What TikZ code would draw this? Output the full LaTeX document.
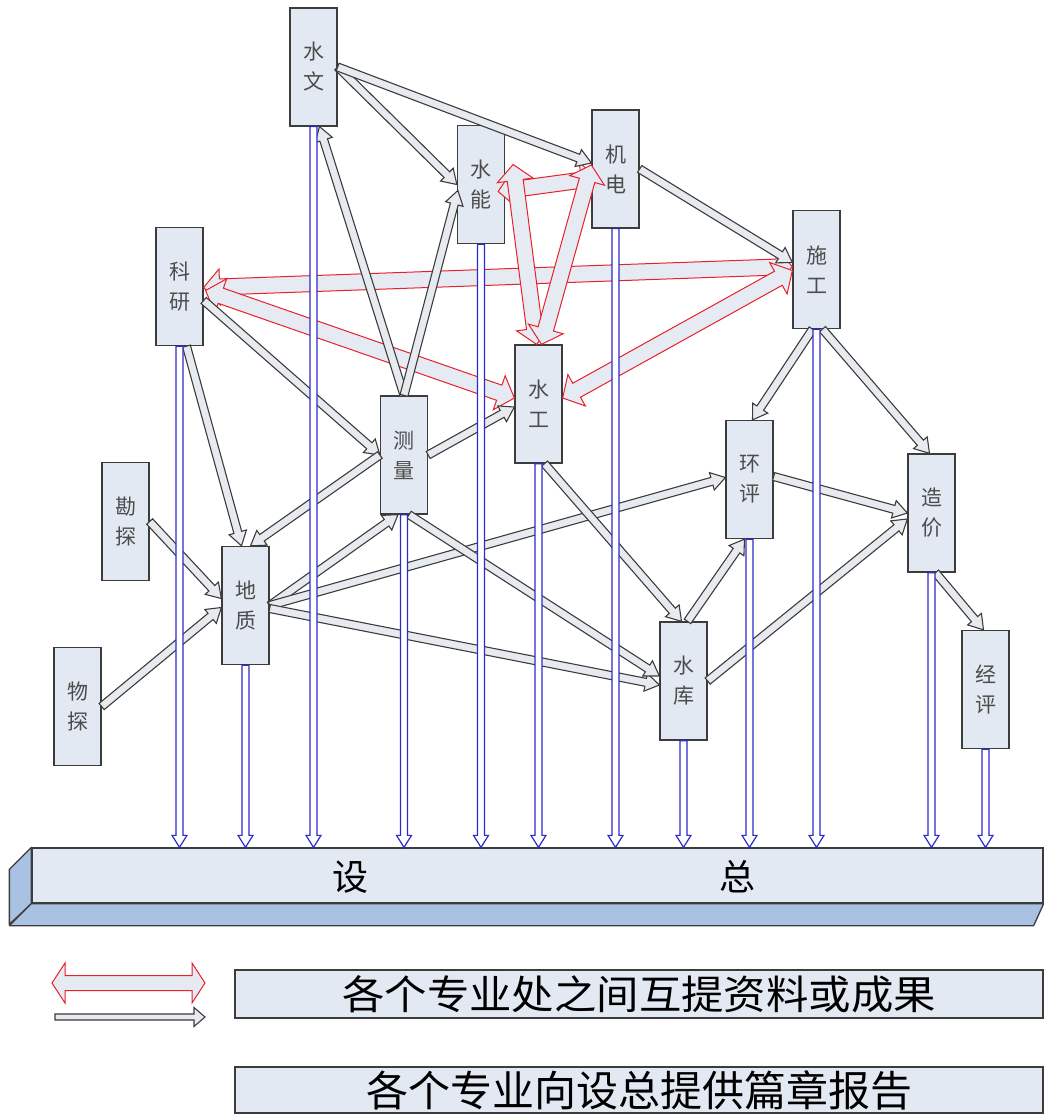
\documentclass[tikz,border=0pt]{standalone}
\usepackage{fontspec}
\newfontfamily\cjk{Noto Sans CJK SC}
\usetikzlibrary{calc}
\definecolor{boxfill}{HTML}{E3E9F3}
\definecolor{boxline}{HTML}{3C3C3C}
\definecolor{labelgray}{HTML}{4C4C4C}
\definecolor{grayfill}{HTML}{E7EAEF}
\definecolor{redline}{HTML}{E8202A}
\definecolor{redfill}{HTML}{E6EBF3}
\definecolor{blueline}{HTML}{2B2BC8}
\definecolor{sidefill}{HTML}{A9C1E2}

% block arrow with one head: style, tail, tip, shaft half width, head half width, head length
\newcommand{\onearrow}[6]{%
  \path (#2) coordinate (oa-t) (#3) coordinate (oa-p);
  \coordinate (oa-h) at ($(oa-p)!#6!(oa-t)$);
  \draw[#1] ($(oa-t)!#4!90:(oa-p)$) -- ($(oa-h)!#4!-90:(oa-t)$) -- ($(oa-h)!#5!-90:(oa-t)$)
    -- (oa-p) -- ($(oa-h)!#5!90:(oa-t)$) -- ($(oa-h)!#4!90:(oa-t)$) -- ($(oa-t)!#4!-90:(oa-p)$) -- cycle;
}
% block arrow with a head at both ends
\newcommand{\twoarrow}[6]{%
  \path (#2) coordinate (ta-a) (#3) coordinate (ta-b);
  \coordinate (ta-ha) at ($(ta-a)!#6!(ta-b)$);
  \coordinate (ta-hb) at ($(ta-b)!#6!(ta-a)$);
  \draw[#1] (ta-a) -- ($(ta-ha)!#5!90:(ta-b)$) -- ($(ta-ha)!#4!90:(ta-b)$)
    -- ($(ta-hb)!#4!-90:(ta-a)$) -- ($(ta-hb)!#5!-90:(ta-a)$) -- (ta-b)
    -- ($(ta-hb)!#5!90:(ta-a)$) -- ($(ta-hb)!#4!90:(ta-a)$)
    -- ($(ta-ha)!#4!-90:(ta-b)$) -- ($(ta-ha)!#5!-90:(ta-b)$) -- cycle;
}

\begin{document}
\begin{tikzpicture}[x=1pt,y=-1pt,
  deptbox/.style={draw=boxline, fill=boxfill, line width=1.3pt, minimum width=47pt,
    minimum height=118pt, inner sep=0pt, align=center, text=labelgray,
    font=\cjk\fontsize{21}{30}\selectfont},
  grayarr/.style={draw=boxline, fill=grayfill, line width=1.1pt},
  redarr/.style={draw=redline, fill=redfill, line width=1pt},
  bluearr/.style={draw=blueline, fill=white, line width=1.2pt},
  legbox/.style={draw=boxline, fill=boxfill, line width=1.3pt, minimum width=808pt,
    inner sep=0pt, text=black},
]
\useasboundingbox (0,0) rectangle (1043,1115);

% departments
\node[deptbox] (shuiwen)  at (313.5,67)   {水\\文};
\node[deptbox] (shuineng) at (481,184.5)  {水\\能};
\node[deptbox] (jidian)   at (615.5,169)  {机\\电};
\node[deptbox] (keyan)    at (179.5,286.5){科\\研};
\node[deptbox] (shigong)  at (816.5,269.5){施\\工};
\node[deptbox] (shuigong) at (538.5,404)  {水\\工};
\node[deptbox] (celiang)  at (404,455)    {测\\量};
\node[deptbox] (huanping) at (749.5,479.5){环\\评};
\node[deptbox] (zaojia)   at (931.5,513)  {造\\价};
\node[deptbox] (kantan)   at (125.5,521.5){勘\\探};
\node[deptbox] (dizhi)    at (245.5,605.5){地\\质};
\node[deptbox] (shuiku)   at (683.5,681)  {水\\库};
\node[deptbox] (jingping) at (985.5,689.5){经\\评};
\node[deptbox] (wutan)    at (77.5,706.5) {物\\探};

% chief designer bar
\node[draw=boxline, fill=boxfill, line width=1.3pt, minimum width=1011pt,
  minimum height=55pt, inner sep=0pt] (sz) at (537.5,875.5) {};
\draw[draw=boxline, fill=sidefill, line width=1.3pt, line join=round]
  (sz.north west) -- ++(-22,22) -- ++(0,55) -- (sz.south west) -- cycle;
\draw[draw=boxline, fill=sidefill, line width=1.3pt, line join=round]
  (sz.south west) -- ++(-22,22) -- ($(sz.south east)+(-10,22)$) -- (sz.south east) -- cycle;
\node[font=\cjk\fontsize{36}{36}\selectfont] (she) at (350,877) {设};
\node[font=\cjk\fontsize{36}{36}\selectfont] (zong) at (737,877) {总};

% mutual exchange between departments
\twoarrow{redarr}{$(keyan.east)+(0,1)$}{$(shigong.west)+(0,-3)$}{8pt}{18pt}{16pt}
\twoarrow{redarr}{$(keyan.east)+(2,4)$}{$(shuigong.west)+(0,-6)$}{8pt}{18pt}{16pt}
\twoarrow{redarr}{$(shigong.west)+(0,1)$}{$(shuigong.east)+(0,-6)$}{8pt}{18pt}{16pt}
\twoarrow{redarr}{$(shuineng.east)+(-7,7)$}{$(jidian.west)+(6,9)$}{8pt}{18pt}{16pt}
\twoarrow{redarr}{$(shuineng.east)+(8,-20)$}{$(shuigong.north)+(-2,0)$}{8pt}{18pt}{16pt}
\twoarrow{redarr}{$(jidian.west)+(0,-4)$}{$(shuigong.north)+(3,0)$}{8pt}{18pt}{16pt}

% one-way data flows
\onearrow{grayarr}{shuiwen.east}{shuineng.west}{4pt}{9pt}{14pt}
\onearrow{grayarr}{shuiwen.east}{$(jidian.west)+(0,-6)$}{4pt}{9pt}{14pt}
\onearrow{grayarr}{jidian.east}{$(shigong.west)+(0,-7)$}{4pt}{9pt}{14pt}
\onearrow{grayarr}{celiang.north}{$(shuiwen.south)+(6,0)$}{4pt}{9pt}{14pt}
\onearrow{grayarr}{celiang.north}{$(shuineng.west)+(1,6)$}{4pt}{9pt}{14pt}
\onearrow{grayarr}{$(keyan.south)+(7,0)$}{$(dizhi.north)+(-4,0)$}{4pt}{9pt}{14pt}
\onearrow{grayarr}{$(keyan.east)+(0,14)$}{celiang.west}{4pt}{9pt}{14pt}
\onearrow{grayarr}{celiang.west}{$(dizhi.north)+(5,0)$}{4pt}{9pt}{14pt}
\onearrow{grayarr}{celiang.east}{$(shuigong.west)+(0,3)$}{4pt}{9pt}{14pt}
\onearrow{grayarr}{dizhi.east}{$(celiang.south)+(-6,0)$}{4pt}{9pt}{14pt}
\onearrow{grayarr}{dizhi.east}{$(huanping.west)+(0,-2)$}{4pt}{9pt}{14pt}
\onearrow{grayarr}{$(dizhi.east)+(0,3)$}{$(shuiku.west)+(0,4)$}{4pt}{9pt}{14pt}
\onearrow{grayarr}{$(celiang.south)+(5,0)$}{$(shuiku.west)+(0,-5)$}{4pt}{9pt}{14pt}
\onearrow{grayarr}{$(shuigong.south)+(6,0)$}{$(shuiku.north)+(-2,0)$}{4pt}{9pt}{14pt}
\onearrow{grayarr}{$(shuiku.north)+(4,0)$}{$(huanping.south)+(-5,0)$}{4pt}{9pt}{14pt}
\onearrow{grayarr}{shuiku.east}{$(zaojia.west)+(0,6)$}{4pt}{9pt}{14pt}
\onearrow{grayarr}{$(huanping.east)+(0,-3)$}{zaojia.west}{4pt}{9pt}{14pt}
\onearrow{grayarr}{$(shigong.south)+(-4,0)$}{$(huanping.north)+(3,0)$}{4pt}{9pt}{14pt}
\onearrow{grayarr}{$(shigong.south)+(6,0)$}{$(zaojia.north)+(-2,0)$}{4pt}{9pt}{14pt}
\onearrow{grayarr}{$(zaojia.south)+(4,0)$}{$(jingping.north)+(-2,0)$}{4pt}{9pt}{14pt}
\onearrow{grayarr}{kantan.east}{$(dizhi.west)+(0,-7)$}{4pt}{9pt}{14pt}
\onearrow{grayarr}{wutan.east}{$(dizhi.west)+(0,2)$}{4pt}{9pt}{14pt}

% chapter reports to the chief designer
\foreach \d in {keyan,dizhi,shuiwen,celiang,shuineng,shuigong,jidian,shuiku,huanping,shigong,zaojia,jingping}{
  \onearrow{bluearr}{\d.south}{\d.south |- sz.north}{3.5pt}{7.5pt}{12pt}
}

% legend
\coordinate (lra) at (52,983);
\coordinate (lrb) at (205,983);
\coordinate (lga) at (55,1017);
\coordinate (lgb) at (205,1017);
\twoarrow{redarr}{lra}{lrb}{7.5pt}{20pt}{13pt}
\onearrow{grayarr}{lga}{lgb}{3pt}{9.5pt}{11pt}
\node[legbox, minimum height=48pt] (leg1) at (639,994) {};
\node[font=\cjk\fontsize{40}{40}\selectfont, xscale=1.06] (leg1t) at (leg1) {各个专业处之间互提资料或成果};
\node[legbox, minimum height=46pt] (leg2) at (639,1090) {};
\node[font=\cjk\fontsize{42}{42}\selectfont, xscale=1.0] (leg2t) at (leg2) {各个专业向设总提供篇章报告};
\end{tikzpicture}
\end{document}
